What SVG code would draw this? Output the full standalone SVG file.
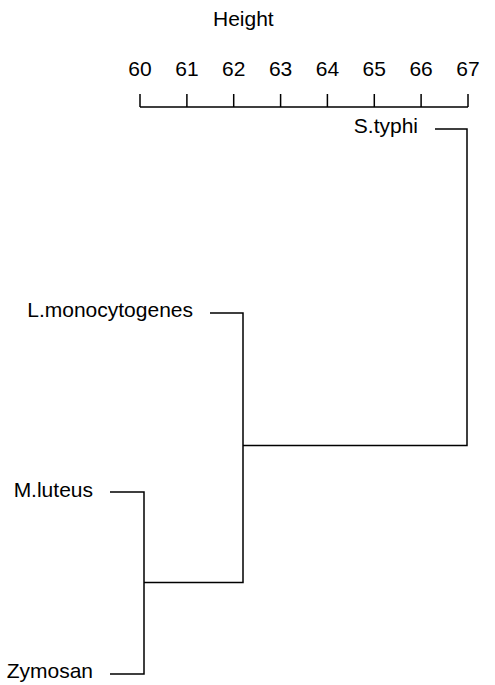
<svg xmlns="http://www.w3.org/2000/svg" width="495" height="685" viewBox="0 0 495 685">
<style>
text{font-family:"Liberation Sans",Arial,sans-serif;font-size:21px;fill:#000}
.tk{text-anchor:middle}
.lb{text-anchor:end}
line,path{stroke:#000;stroke-width:1.5;fill:none}
</style>
<rect width="495" height="685" fill="#fff"/>
<g id="axis">
<text x="213" y="26">Height</text>
<path d="M140,107H468M140,94V107M186.9,94V107M233.7,94V107M280.6,94V107M327.4,94V107M374.3,94V107M421.1,94V107M468,94V107"/>
<text class="tk" x="140" y="76">60</text>
<text class="tk" x="186.9" y="76">61</text>
<text class="tk" x="233.7" y="76">62</text>
<text class="tk" x="280.6" y="76">63</text>
<text class="tk" x="327.4" y="76">64</text>
<text class="tk" x="374.3" y="76">65</text>
<text class="tk" x="421.1" y="76">66</text>
<text class="tk" x="468" y="76">67</text>
</g>
<g id="leaf-styphi"><text class="lb" x="418" y="133">S.typhi</text></g>
<g id="leaf-lmono"><text class="lb" x="193" y="317">L.monocytogenes</text></g>
<g id="leaf-mluteus"><text class="lb" x="93" y="497">M.luteus</text></g>
<g id="leaf-zymosan"><text class="lb" x="93" y="678">Zymosan</text></g>
<g id="connectors">
<path d="M435,129H467V445.5H243"/>
<path d="M210,313H243V582.5H144"/>
<path d="M110,492H144V674H110"/>
</g>
</svg>
